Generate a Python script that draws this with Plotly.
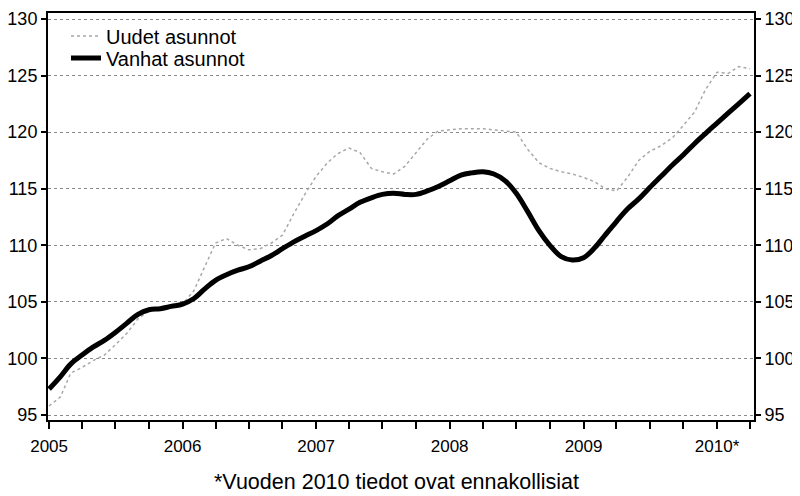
import plotly.graph_objects as go
import pandas as pd

months = pd.date_range("2005-01-01", "2010-04-01", freq="MS").strftime("%Y-%m-%d").tolist()

uudet = [95.8, 96.6, 98.7, 99.2, 99.8, 100.3, 101.2, 102.2, 103.5, 104.2, 104.5, 104.7,
         104.8, 106.0, 108.0, 110.2, 110.6, 110.0, 109.6, 109.7, 110.2, 110.9, 112.8, 114.5,
         116.1, 117.3, 118.1, 118.6, 118.2, 116.8, 116.5, 116.3, 117.0, 118.2, 119.4, 120.1,
         120.2, 120.3, 120.3, 120.3, 120.2, 120.1, 120.0, 118.5, 117.3, 116.8, 116.5, 116.3,
         116.0, 115.6, 115.0, 114.8, 116.0, 117.5, 118.3, 118.8, 119.5, 120.6, 121.8, 123.8,
         125.3, 125.2, 125.8, 125.6]

vanhat = [97.3, 98.4, 99.5, 100.3, 101.0, 101.6, 102.3, 103.1, 103.9, 104.3, 104.4, 104.6,
          104.8, 105.3, 106.1, 106.9, 107.4, 107.8, 108.1, 108.6, 109.1, 109.7, 110.3, 110.8,
          111.3, 111.9, 112.6, 113.2, 113.8, 114.2, 114.5, 114.6, 114.5, 114.5, 114.8, 115.2,
          115.7, 116.2, 116.4, 116.5, 116.3, 115.7, 114.6, 113.0, 111.3, 110.0, 109.0, 108.7,
          108.9, 109.8, 110.9, 112.1, 113.2, 114.1, 115.1, 116.1, 117.1, 118.0, 119.0, 119.9,
          120.8, 121.7, 122.5, 123.4]

quarter_ticks = pd.date_range("2005-01-01", "2010-04-01", freq="QS").strftime("%Y-%m-%d").tolist()
year_labels = {"2005": "2005", "2006": "2006", "2007": "2007", "2008": "2008", "2009": "2009", "2010": "2010*"}
quarter_text = [year_labels[d[:4]] if d[5:7] == "01" else "" for d in quarter_ticks]

y_ticks = [95, 100, 105, 110, 115, 120, 125, 130]

FONT = "Liberation Sans, Arial, sans-serif"

fig = go.Figure()
fig.add_trace(go.Scatter(x=months, y=uudet, mode="lines", name="Uudet asunnot", legend="legend",
                         line=dict(color="#a8a8a8", width=1.5, dash="dot")))
fig.add_trace(go.Scatter(x=months, y=vanhat, mode="lines", name="Vanhat asunnot", legend="legend2",
                         line=dict(color="black", width=5, shape="spline")))
fig.add_trace(go.Scatter(x=months, y=vanhat, mode="lines", yaxis="y2", showlegend=False,
                         hoverinfo="skip", line=dict(color="rgba(0,0,0,0)", width=0)))

# page body has an 8px default margin: figure is 792x488 placed at (8, 8)
yr = [94.56, 130.53]
lx = (66 - 48) / 706
fig.update_layout(
    width=792, height=488,
    margin=dict(l=40, r=46, t=5, b=76),
    paper_bgcolor="white", plot_bgcolor="white",
    font=dict(family=FONT, size=18, color="black"),
    showlegend=True,
    legend=dict(x=lx, y=1 - (36 - 13) / 407, xanchor="left", yanchor="middle",
                bgcolor="rgba(0,0,0,0)", font=dict(size=20), itemwidth=30),
    legend2=dict(x=lx, y=1 - (58 - 13) / 407, xanchor="left", yanchor="middle",
                 bgcolor="rgba(0,0,0,0)", font=dict(size=20), itemwidth=30),
    xaxis=dict(range=["2004-12-29", "2010-04-12"], tickmode="array", tickvals=quarter_ticks,
               ticktext=quarter_text, ticks="outside", ticklen=7, tickwidth=2, tickcolor="black",
               showline=True, linecolor="black", linewidth=2, mirror=True, showgrid=False,
               zeroline=False, tickfont=dict(size=17), automargin=False, ticklabelstandoff=3),
    yaxis=dict(range=yr, tickvals=y_ticks, ticks="outside", ticklen=5, tickwidth=1.5,
               tickcolor="black", showline=True, linecolor="black", linewidth=2,
               showgrid=True, gridcolor="#8a8a8a", gridwidth=1, griddash="dot", zeroline=False,
               automargin=False, ticklabeloverflow="allow"),
    yaxis2=dict(range=yr, tickvals=y_ticks, overlaying="y", side="right", ticks="outside",
                ticklen=5, tickwidth=1.5, tickcolor="black", showline=True, linecolor="black",
                linewidth=2, showgrid=False, zeroline=False, automargin=False,
                ticklabeloverflow="allow"),
    annotations=[dict(text="*Vuoden 2010 tiedot ovat ennakollisiat", xref="paper", yref="paper",
                      x=(396 - 48) / 706, y=-(482 - 420) / 407, xanchor="center", yanchor="middle",
                      showarrow=False, font=dict(size=21.5))],
)

fig.write_html("out.html")
